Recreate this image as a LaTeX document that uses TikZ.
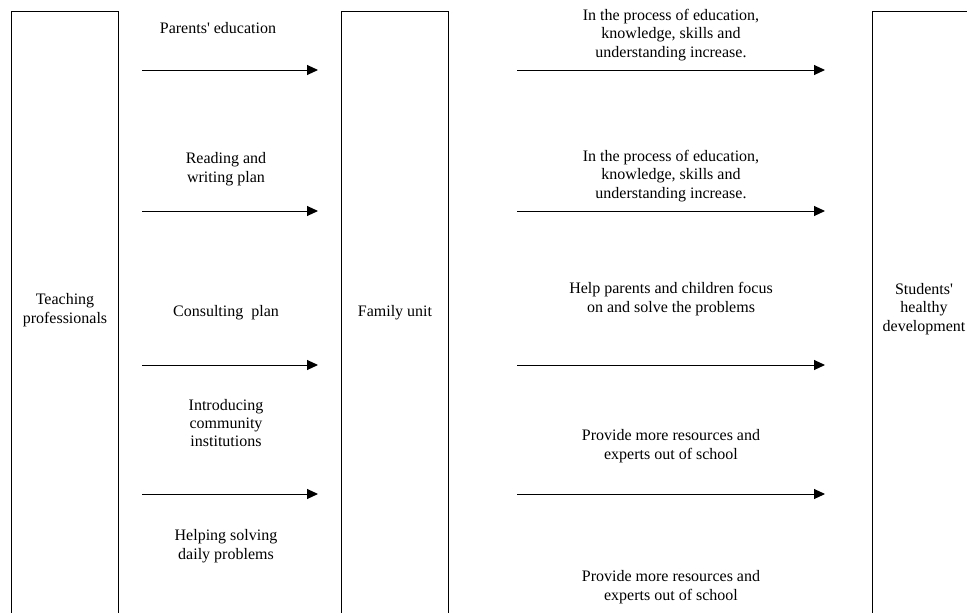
\documentclass[tikz,border=0pt]{standalone}
\usepackage{fontspec}
\setmainfont{Liberation Serif}
\usetikzlibrary{arrows.meta}

\begin{document}
\begin{tikzpicture}[x=1pt,y=-1pt]
		\tikzstyle{unit}=[draw,line width=1pt,rectangle,minimum width=107pt,minimum height=700pt,anchor=north,inner sep=0pt]
		\tikzstyle{txt}=[align=center,inner sep=0pt,font=\fontsize{16}{18.4}\selectfont]
		\tikzstyle{flow}=[line width=1pt,-{Triangle[length=11pt,width=10pt]}]
		\useasboundingbox (0,0) rectangle (967,613);
		\clip (0,0) rectangle (967,613);
		\node[unit](teach)at(64.5,11){};
		\node[unit](family)at(395,11){};
		\node[unit,minimum width=110pt](students)at(927,11){};
		\node[txt](teachlbl)at(65,310){Teaching\\professionals};
		\node[txt](familylbl)at(395,313){Family unit};
		\node[txt](studentslbl)at(924,309){Students\textquotesingle\\healthy\\development};
		\node[txt](parents)at(218,28){Parents\textquotesingle\ education};
		\node[txt](reading)at(226,169){Reading and\\writing plan};
		\node[txt](consult)at(226,313){Consulting\ \ plan};
		\node[txt](intro)at(226,423){Introducing\\community\\institutions};
		\node[txt](helping)at(226,546){Helping solving\\daily problems};
		\node[txt](process1)at(671,35){In the process of education,\\knowledge, skills and\\understanding increase.};
		\node[txt](process2)at(671,176){In the process of education,\\knowledge, skills and\\understanding increase.};
		\node[txt](focus)at(671,299){Help parents and children focus\\on and solve the problems};
		\node[txt](resources1)at(671,446){Provide more resources and\\experts out of school};
		\node[txt](resources2)at(671,587){Provide more resources and\\experts out of school};
		\coordinate (ls1) at (142,70);
		\coordinate (le1) at (318,70);
		\coordinate (ls2) at (142,211);
		\coordinate (le2) at (318,211);
		\coordinate (ls3) at (142,365);
		\coordinate (le3) at (318,365);
		\coordinate (ls4) at (142,494);
		\coordinate (le4) at (318,494);
		\coordinate (rs1) at (517,70);
		\coordinate (re1) at (825,70);
		\coordinate (rs2) at (517,211);
		\coordinate (re2) at (825,211);
		\coordinate (rs3) at (517,365);
		\coordinate (re3) at (825,365);
		\coordinate (rs4) at (517,494);
		\coordinate (re4) at (825,494);
		\path[flow] (ls1) edge (le1);
		\path[flow] (ls2) edge (le2);
		\path[flow] (ls3) edge (le3);
		\path[flow] (ls4) edge (le4);
		\path[flow] (rs1) edge (re1);
		\path[flow] (rs2) edge (re2);
		\path[flow] (rs3) edge (re3);
		\path[flow] (rs4) edge (re4);
\end{tikzpicture}
\end{document}
